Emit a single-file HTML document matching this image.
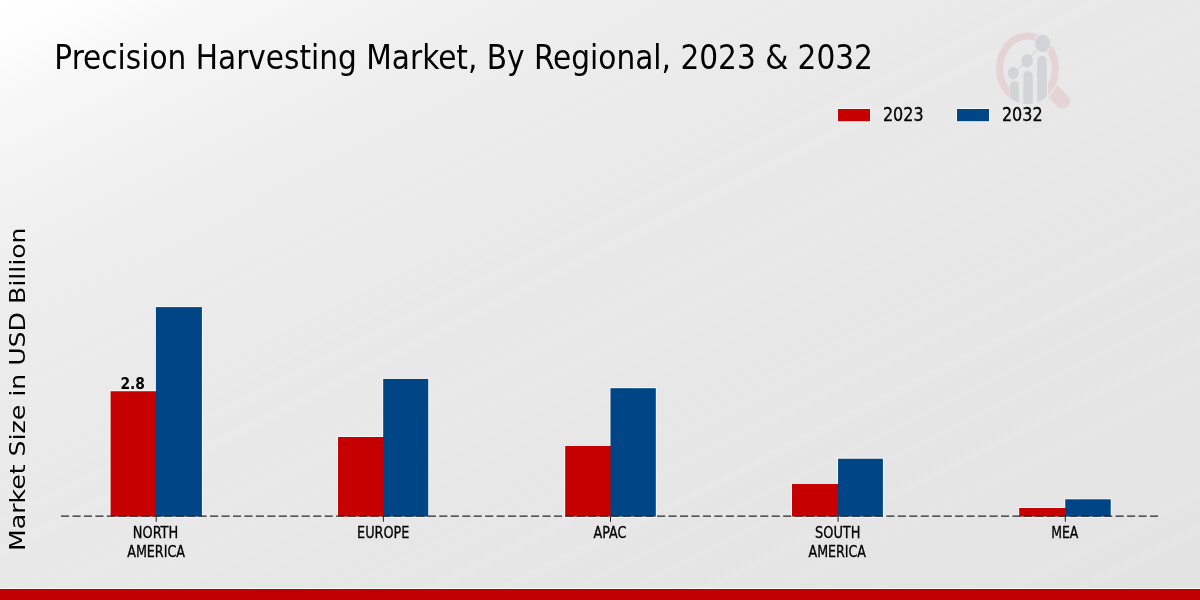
<!DOCTYPE html>
<html><head><meta charset="utf-8">
<style>
html,body{margin:0;padding:0;width:1200px;height:600px;overflow:hidden;background:#e8e8e8;}
svg{display:block}
.c{font-family:"DejaVu Sans Condensed","DejaVu Sans","Liberation Sans",sans-serif;font-stretch:condensed;}
.r{font-family:"DejaVu Sans","Liberation Sans",sans-serif;}
</style></head><body>
<svg width="1200" height="600" viewBox="0 0 1200 600">
<defs>
<linearGradient id="bg" x1="0" y1="0" x2="1" y2="1">
<stop offset="0" stop-color="#ffffff"/><stop offset="0.04" stop-color="#fdfdfd"/><stop offset="0.083" stop-color="#f8f8f8"/><stop offset="0.167" stop-color="#f2f2f2"/><stop offset="0.25" stop-color="#ededed"/><stop offset="0.33" stop-color="#ebebeb"/><stop offset="0.42" stop-color="#e9e9e9"/><stop offset="0.5" stop-color="#e8e8e8"/><stop offset="0.667" stop-color="#e6e6e6"/><stop offset="1" stop-color="#e3e3e3"/>
</linearGradient>
<filter id="soft" x="0" y="0" width="1200" height="600" filterUnits="userSpaceOnUse"><feGaussianBlur stdDeviation="1.6"/></filter>
<clipPath id="lens"><ellipse cx="1027.5" cy="68.5" rx="31.3" ry="35.8"/></clipPath>
<mask id="ringmask" maskUnits="userSpaceOnUse" x="980" y="20" width="110" height="110"><rect x="980" y="20" width="110" height="110" fill="#fff"/><rect x="1009.4" y="85" width="38.4" height="30" fill="#000"/><ellipse cx="1042.65" cy="43.25" rx="8.75" ry="9.85" fill="#000"/></mask>
<mask id="handlemask" maskUnits="userSpaceOnUse" x="980" y="20" width="110" height="110"><rect x="980" y="20" width="110" height="110" fill="#fff"/><ellipse cx="1027.5" cy="68.5" rx="32.8" ry="37.3" fill="#000"/></mask>
</defs>
<rect width="1200" height="600" fill="url(#bg)"/>
<g stroke="#ffffff" fill="none" filter="url(#soft)"><line x1="692.0" y1="-10" x2="-548.0" y2="610" stroke-width="5" stroke-opacity="0.05"/><line x1="778.4" y1="-10" x2="-461.6" y2="610" stroke-width="3" stroke-opacity="0.04"/><line x1="821.6" y1="-10" x2="-418.4" y2="610" stroke-width="5" stroke-opacity="0.04"/><line x1="879.2" y1="-10" x2="-360.8" y2="610" stroke-width="3" stroke-opacity="0.04"/><line x1="965.6" y1="-10" x2="-274.4" y2="610" stroke-width="6" stroke-opacity="0.04"/><line x1="1023.2" y1="-10" x2="-216.8" y2="610" stroke-width="3" stroke-opacity="0.08"/><line x1="1066.4" y1="-10" x2="-173.6" y2="610" stroke-width="8" stroke-opacity="0.04"/><line x1="1124.0" y1="-10" x2="-116.0" y2="610" stroke-width="8" stroke-opacity="0.04"/><line x1="1210.4" y1="-10" x2="-29.6" y2="610" stroke-width="3" stroke-opacity="0.05"/><line x1="1253.6" y1="-10" x2="13.6" y2="610" stroke-width="8" stroke-opacity="0.05"/><line x1="1325.6" y1="-10" x2="85.6" y2="610" stroke-width="6" stroke-opacity="0.05"/><line x1="1368.8" y1="-10" x2="128.8" y2="610" stroke-width="8" stroke-opacity="0.06"/><line x1="1426.4" y1="-10" x2="186.4" y2="610" stroke-width="3" stroke-opacity="0.05"/><line x1="1498.4" y1="-10" x2="258.4" y2="610" stroke-width="3" stroke-opacity="0.04"/><line x1="1541.6" y1="-10" x2="301.6" y2="610" stroke-width="8" stroke-opacity="0.05"/><line x1="1628.0" y1="-10" x2="388.0" y2="610" stroke-width="8" stroke-opacity="0.08"/><line x1="1700.0" y1="-10" x2="460.0" y2="610" stroke-width="6" stroke-opacity="0.08"/><line x1="1772.0" y1="-10" x2="532.0" y2="610" stroke-width="5" stroke-opacity="0.05"/><line x1="1829.6" y1="-10" x2="589.6" y2="610" stroke-width="4" stroke-opacity="0.04"/><line x1="1901.6" y1="-10" x2="661.6" y2="610" stroke-width="8" stroke-opacity="0.08"/><line x1="1973.6" y1="-10" x2="733.6" y2="610" stroke-width="6" stroke-opacity="0.06"/><line x1="2016.8" y1="-10" x2="776.8" y2="610" stroke-width="3" stroke-opacity="0.08"/><line x1="2074.4" y1="-10" x2="834.4" y2="610" stroke-width="5" stroke-opacity="0.05"/><line x1="2160.8" y1="-10" x2="920.8" y2="610" stroke-width="6" stroke-opacity="0.04"/><line x1="2204.0" y1="-10" x2="964.0" y2="610" stroke-width="8" stroke-opacity="0.06"/><line x1="2276.0" y1="-10" x2="1036.0" y2="610" stroke-width="5" stroke-opacity="0.08"/><line x1="2362.4" y1="-10" x2="1122.4" y2="610" stroke-width="3" stroke-opacity="0.04"/></g>
<!--LOGO-->
<g id="logo">
<g mask="url(#ringmask)">
<ellipse cx="1027.5" cy="68.5" rx="27.9" ry="32.4" fill="none" stroke="#e4d4d6" stroke-width="7.2"/>
</g>
<g mask="url(#handlemask)">
<line x1="1050" y1="88" x2="1062.6" y2="101.3" stroke="#e4d4d6" stroke-width="14.9" stroke-linecap="round"/>
</g>
<g clip-path="url(#lens)" fill="#d3d4d8">
<rect x="1010" y="81" width="9" height="30" rx="4.5"/>
<rect x="1023.3" y="71" width="9.5" height="40" rx="4.7"/>
<rect x="1037.2" y="55.8" width="9.6" height="55" rx="4.8"/>
</g>
<g fill="#d3d4d8" stroke="none">
<path d="M1013.3 73.1 L1027.1 60.85 L1042.65 43.25" fill="none" stroke="#d3d4d8" stroke-width="1.1"/>
<ellipse cx="1013.3" cy="73.1" rx="5.5" ry="6.1"/>
<ellipse cx="1027.1" cy="60.85" rx="5.9" ry="6.65"/>
<ellipse cx="1042.65" cy="43.25" rx="7.65" ry="8.75"/>
</g>
</g>
<g fill="none" stroke="#fffdf8" stroke-opacity="0.7" stroke-width="1"><rect x="110.1" y="390.75" width="46.30" height="125.35"/><rect x="155.4" y="306.6" width="47.00" height="209.50"/><rect x="337.55" y="436.5" width="46.15" height="79.60"/><rect x="382.7" y="378.45" width="46.00" height="137.65"/><rect x="564.7" y="445.45" width="46.30" height="70.65"/><rect x="610.0" y="387.7" width="46.30" height="128.40"/><rect x="791.5" y="483.45" width="47.05" height="32.65"/><rect x="837.55" y="458.25" width="45.85" height="57.85"/><rect x="1018.7" y="507.5" width="47.05" height="8.60"/><rect x="1064.75" y="498.8" width="46.45" height="17.30"/><rect x="837.5" y="108.5" width="33" height="13.2"/><rect x="956.5" y="108.5" width="33" height="13.2"/><line x1="0" y1="588.5" x2="1200" y2="588.5"/></g>
<g fill="#c60000"><rect x="110.6" y="391.25" width="46.30" height="125.35"/><rect x="338.05" y="437" width="46.15" height="79.60"/><rect x="565.2" y="445.95" width="46.30" height="70.65"/><rect x="792" y="483.95" width="47.05" height="32.65"/><rect x="1019.2" y="508" width="47.05" height="8.60"/></g>
<g fill="#004586"><rect x="155.9" y="307.1" width="46.00" height="209.50"/><rect x="383.2" y="378.95" width="45.00" height="137.65"/><rect x="610.5" y="388.2" width="45.30" height="128.40"/><rect x="838.05" y="458.75" width="44.85" height="57.85"/><rect x="1065.25" y="499.3" width="45.45" height="17.30"/></g>
<line x1="61" y1="516.1" x2="1158.3" y2="516.1" stroke="#282828" stroke-width="1.3" stroke-dasharray="8.1,3.363"/>
<g stroke="#ffffff" stroke-opacity="0.6" stroke-width="1"><line x1="110.6" y1="517.5" x2="201.9" y2="517.5"/><line x1="338.05" y1="517.5" x2="428.2" y2="517.5"/><line x1="565.2" y1="517.5" x2="655.8" y2="517.5"/><line x1="792" y1="517.5" x2="882.9" y2="517.5"/><line x1="1019.2" y1="517.5" x2="1110.7" y2="517.5"/></g>
<g stroke="#222" stroke-width="1"><line x1="156.2" y1="516.5" x2="156.2" y2="521.8"/><line x1="383.4" y1="516.5" x2="383.4" y2="521.8"/><line x1="610.5" y1="516.5" x2="610.5" y2="521.8"/><line x1="838.1" y1="516.5" x2="838.1" y2="521.8"/><line x1="1065.3" y1="516.5" x2="1065.3" y2="521.8"/></g>
<rect x="838" y="109" width="32" height="12.2" fill="#c60000"/>
<rect x="957" y="109" width="32" height="12.2" fill="#004586"/>
<g fill="#000">
<text class="c" font-size="34.3" transform="translate(54.37,68.8) scale(0.9597,1)">Precision Harvesting Market, By Regional, 2023 &amp; 2032</text>
<text class="c" font-size="16" stroke="#000" stroke-width="0.3" transform="translate(132.85,538) scale(0.8981,1)">NORTH</text>
<text class="c" font-size="16" stroke="#000" stroke-width="0.3" transform="translate(127.20,557) scale(0.8836,1)">AMERICA</text>
<text class="c" font-size="16" stroke="#000" stroke-width="0.3" transform="translate(357.06,538) scale(0.8927,1)">EUROPE</text>
<text class="c" font-size="16" stroke="#000" stroke-width="0.3" transform="translate(593.60,538) scale(0.8860,1)">APAC</text>
<text class="c" font-size="16" stroke="#000" stroke-width="0.3" transform="translate(815.08,538) scale(0.8960,1)">SOUTH</text>
<text class="c" font-size="16" stroke="#000" stroke-width="0.3" transform="translate(808.50,557) scale(0.8790,1)">AMERICA</text>
<text class="c" font-size="16" stroke="#000" stroke-width="0.3" transform="translate(1051.19,538) scale(0.8668,1)">MEA</text>
<text class="c" font-size="15.4" font-weight="bold" transform="translate(120.42,388.5) scale(0.9997,1)">2.8</text>
<text class="c" font-size="18.9" stroke="#000" stroke-width="0.3" transform="translate(882.93,121.2) scale(0.9401,1)">2023</text>
<text class="c" font-size="18.9" stroke="#000" stroke-width="0.3" transform="translate(1001.93,121.2) scale(0.9415,1)">2032</text>
<text class="r" font-size="22" transform="translate(24.9,550.97) rotate(-90) scale(1.1450,1)">Market Size in USD Billion</text>
</g>
<rect x="0" y="589" width="1200" height="11" fill="#c00000"/>
</svg>
</body></html>
